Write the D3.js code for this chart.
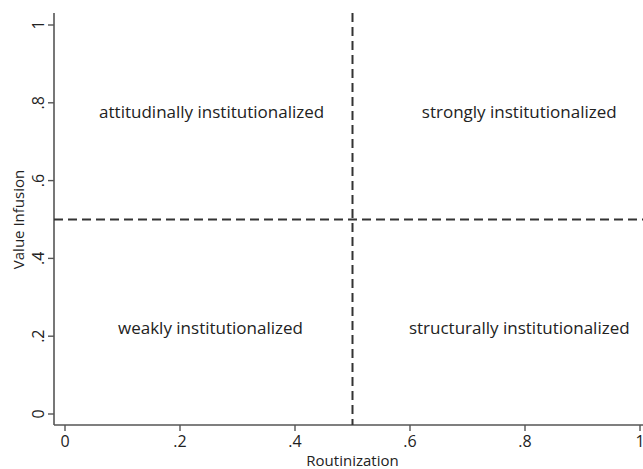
<!DOCTYPE html>
<html>
<head>
<meta charset="utf-8">
<script src="https://cdn.jsdelivr.net/npm/d3@7"></script>
<style>
  body { margin: 0; background: #fff; }
  text { font-family: "Open Sans", sans-serif; fill: #222; }
</style>
</head>
<body>
<div class="chart"></div>
<script>
// data
const xTicks = [0, 0.2, 0.4, 0.6, 0.8, 1];
const yTicks = [0, 0.2, 0.4, 0.6, 0.8, 1];
const tickLabels = ["0", ".2", ".4", ".6", ".8", "1"];
const cutX = 0.5;
const cutY = 0.5;
const quadrantNames = ["attitudinally institutionalized", "strongly institutionalized",
                       "weakly institutionalized", "structurally institutionalized"];
const quadrantX = [0.255, 0.79, 0.253, 0.79];
const quadrantY = [0.776, 0.776, 0.222, 0.222];

const W = 643, H = 469;
const svg = d3.select(".chart").append("svg")
    .attr("width", W)
    .attr("height", H);

// scales
const x = d3.scaleLinear().domain([0, 1]).range([65, 640]);
const y = d3.scaleLinear().domain([0, 1]).range([414, 25]);

const axisX = 54, axisY = 425;

// axis lines
svg.append("line")
    .attr("x1", axisX).attr("x2", axisX)
    .attr("y1", 13).attr("y2", axisY)
    .attr("stroke", "#555").attr("stroke-width", 1.6);
svg.append("line")
    .attr("x1", axisX).attr("x2", W)
    .attr("y1", axisY).attr("y2", axisY)
    .attr("stroke", "#555").attr("stroke-width", 1.6);

// y ticks
const yAxis = svg.append("g");
yAxis.selectAll("line").data(yTicks).join("line")
    .attr("x1", axisX - 6).attr("x2", axisX)
    .attr("y1", d => y(d)).attr("y2", d => y(d))
    .attr("stroke", "#555").attr("stroke-width", 1.4);
yAxis.selectAll("text").data(yTicks).join("text")
    .attr("transform", d => `translate(${axisX - 10},${y(d)}) rotate(-90)`)
    .attr("text-anchor", "middle")
    .attr("font-size", 16)
    .text((d, i) => tickLabels[i]);

// x ticks
const xAxis = svg.append("g");
xAxis.selectAll("line").data(xTicks).join("line")
    .attr("x1", d => x(d)).attr("x2", d => x(d))
    .attr("y1", axisY).attr("y2", axisY + 6)
    .attr("stroke", "#555").attr("stroke-width", 1.4);
xAxis.selectAll("text").data(xTicks).join("text")
    .attr("x", d => x(d))
    .attr("y", axisY + 22)
    .attr("text-anchor", "middle")
    .attr("font-size", 16)
    .text((d, i) => tickLabels[i]);

// axis titles
svg.append("text")
    .attr("transform", `translate(24,${y(0.5)}) rotate(-90)`)
    .attr("text-anchor", "middle")
    .attr("font-size", 15)
    .text("Value Infusion");
svg.append("text")
    .attr("x", x(0.5))
    .attr("y", 466)
    .attr("text-anchor", "middle")
    .attr("font-size", 15)
    .text("Routinization");

// dashed cut lines
svg.append("line")
    .attr("x1", x(cutX)).attr("x2", x(cutX))
    .attr("y1", 13).attr("y2", axisY)
    .attr("stroke", "#333").attr("stroke-width", 2)
    .attr("stroke-dasharray", "9,5");
svg.append("line")
    .attr("x1", axisX).attr("x2", W)
    .attr("y1", y(cutY)).attr("y2", y(cutY))
    .attr("stroke", "#333").attr("stroke-width", 2)
    .attr("stroke-dasharray", "9,5");

// quadrant labels
svg.selectAll(".qlabel").data(quadrantNames).join("text")
    .attr("class", "qlabel")
    .attr("x", (d, i) => x(quadrantX[i]))
    .attr("y", (d, i) => y(quadrantY[i]))
    .attr("dy", "0.35em")
    .attr("text-anchor", "middle")
    .attr("font-size", 17)
    .text(d => d);
</script>
</body>
</html>
